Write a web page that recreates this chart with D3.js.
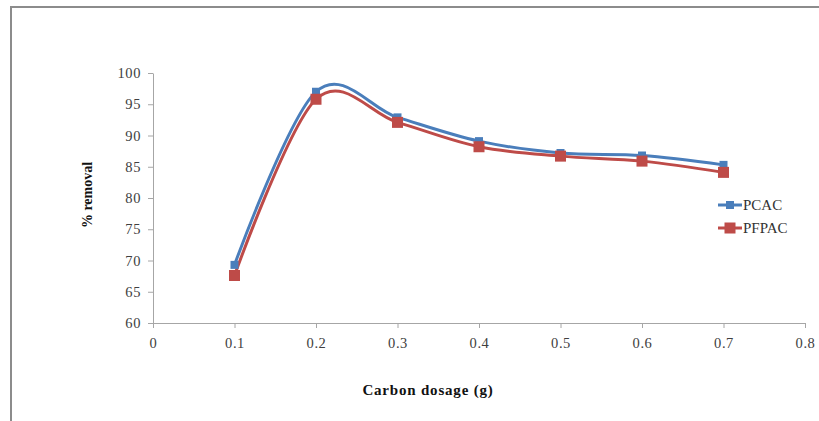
<!DOCTYPE html>
<html>
<head>
<meta charset="utf-8">
<script src="https://cdnjs.cloudflare.com/ajax/libs/d3/7.8.5/d3.min.js"></script>
<style>
  body { margin: 0; background: #fff; }
  svg { display: block; font-family: "Liberation Serif", "DejaVu Serif", serif; }
  .axis .domain, .axis line { stroke: #a6a6a6; }
  .axis text { fill: #404040; font-size: 14.5px; font-family: "Liberation Serif", serif; letter-spacing: 0.6px; }
</style>
</head>
<body>
<script>
// values
const dosage = [0.1, 0.2, 0.3, 0.4, 0.5, 0.6, 0.7];
const pcac   = [69.3, 97.0, 92.9, 89.1, 87.2, 86.8, 85.3];
const pfpac  = [67.6, 95.8, 92.1, 88.2, 86.7, 85.9, 84.1];
const xTicks = [0, 0.1, 0.2, 0.3, 0.4, 0.5, 0.6, 0.7, 0.8];
const yTicks = [60, 65, 70, 75, 80, 85, 90, 95, 100];

const series = [
  {name: 'PCAC', values: pcac, color: '#4a7ebb', size: 8},
  {name: 'PFPAC', values: pfpac, color: '#be4b48', size: 11}
];

const width = 819, height = 421;
const svg = d3.select('body').append('svg').attr('width', width).attr('height', height);

// frame (only top and left edges visible)
svg.append('path')
  .attr('d', 'M11,421 V7 H819')
  .attr('fill', 'none')
  .attr('stroke', '#8c8c8c')
  .attr('stroke-width', 2);

const x = d3.scaleLinear().domain([0, 0.8]).range([153, 805]);
const y = d3.scaleLinear().domain([60, 100]).range([323, 73]);

svg.append('g')
  .attr('class', 'axis')
  .attr('transform', 'translate(0,323)')
  .call(d3.axisBottom(x).tickValues(xTicks).tickSize(5).tickSizeOuter(0).tickFormat(d => d === 0 ? '0' : d3.format('.1f')(d)))
  .call(g => g.attr('font-family', null).attr('font-size', null))
  .call(g => g.selectAll('text').attr('dy', '1.15em'));

svg.append('g')
  .attr('class', 'axis')
  .attr('transform', 'translate(153,0)')
  .call(d3.axisLeft(y).tickValues(yTicks).tickSize(5).tickSizeOuter(0))
  .call(g => g.attr('font-family', null).attr('font-size', null))
  .call(g => g.selectAll('text').attr('x', -12));

const line = d3.line()
  .x((d, i) => x(dosage[i]))
  .y(d => y(d))
  .curve(d3.curveCardinal.tension(0));

series.forEach(s => {
  svg.append('path')
    .attr('d', line(s.values))
    .attr('fill', 'none')
    .attr('stroke', s.color)
    .attr('stroke-width', 3);
});

series.forEach(s => {
  svg.append('g').selectAll('rect')
    .data(s.values)
    .join('rect')
    .attr('x', (d, i) => x(dosage[i]) - s.size / 2)
    .attr('y', d => y(d) - s.size / 2)
    .attr('width', s.size)
    .attr('height', s.size)
    .attr('fill', s.color);
});

// axis titles
svg.append('text')
  .attr('transform', 'translate(92,195) rotate(-90)')
  .attr('text-anchor', 'middle')
  .attr('font-weight', 'bold')
  .attr('font-size', 14)
  .attr('fill', '#111')
  .text('% removal');

svg.append('text')
  .attr('x', 428)
  .attr('y', 395)
  .attr('text-anchor', 'middle')
  .attr('font-weight', 'bold')
  .attr('font-size', 15)
  .attr('letter-spacing', 0.8)
  .attr('fill', '#111')
  .text('Carbon dosage (g)');

// legend
const legend = svg.append('g').selectAll('g')
  .data(series)
  .join('g')
  .attr('transform', (d, i) => `translate(718,${205 + i * 23})`);

legend.append('line')
  .attr('x1', 0).attr('x2', 24)
  .attr('stroke', d => d.color)
  .attr('stroke-width', 3);

legend.append('rect')
  .attr('x', d => 12 - d.size / 2)
  .attr('y', d => -d.size / 2)
  .attr('width', d => d.size)
  .attr('height', d => d.size)
  .attr('fill', d => d.color);

legend.append('text')
  .attr('x', 25)
  .attr('dy', '0.35em')
  .attr('font-size', 15)
  .attr('fill', '#333')
  .text(d => d.name);
</script>
</body>
</html>
